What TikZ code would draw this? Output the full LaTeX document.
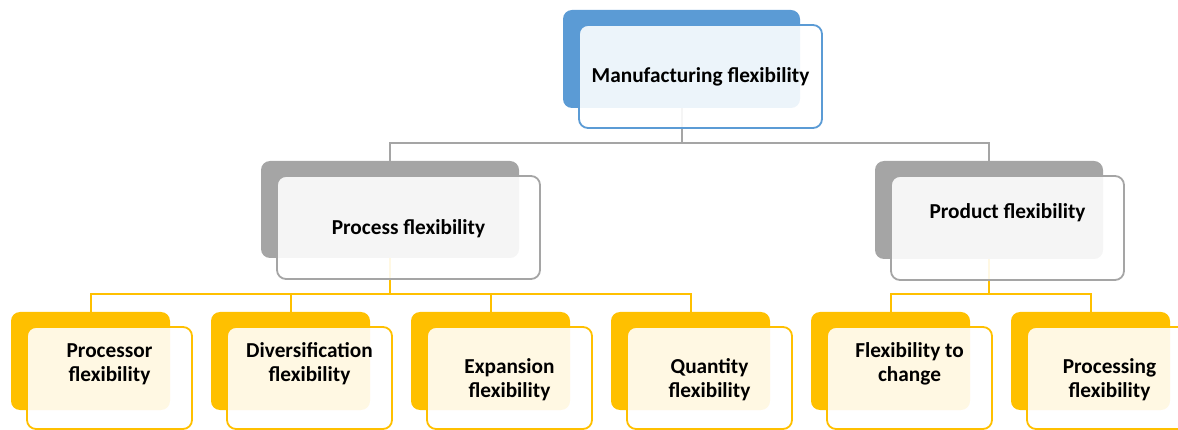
\documentclass[tikz,border=0pt]{standalone}
\usepackage{fontspec}
\setmainfont{Carlito}
\usepackage{xcolor}
\usepackage{tikz}
\usetikzlibrary{positioning}
\definecolor{azulforte}{RGB}{91,155,213}
\definecolor{cinzaforte}{RGB}{165,165,165}
\definecolor{ouroforte}{RGB}{255,192,0}
\tikzset{
  fundo/.style={rectangle,rounded corners=9pt,fill=#1,draw=none,inner sep=0pt},
  frente/.style={rectangle,rounded corners=9pt,draw=#1,line width=1.8pt,fill=white,
    fill opacity=0.89,inner sep=0pt},
  texto/.style={align=center,font=\bfseries\fontsize{21.3}{24}\selectfont},
  ligacao/.style={draw=#1,line width=2pt}
}

\begin{document}
\begin{tikzpicture}[x=1pt,y=-1pt]
\useasboundingbox (0,0) rectangle (1178,430);
\clip (0,0) rectangle (1178,430);
% caixas de fundo
\node[fundo=azulforte,minimum width=237pt,minimum height=98pt] (mfFundo) at (681.5,59) {};
\node[fundo=cinzaforte,minimum width=258pt,minimum height=97pt] (pcFundo) at (390,209.5) {};
\node[fundo=cinzaforte,minimum width=228pt,minimum height=98pt] (pdFundo) at (989,210) {};
\node[fundo=ouroforte,minimum width=159pt,minimum height=98pt] (p1Fundo) at (90.5,361) {};
\node[fundo=ouroforte,minimum width=159pt,minimum height=98pt] (p2Fundo) at (290.5,361) {};
\node[fundo=ouroforte,minimum width=159pt,minimum height=98pt] (p3Fundo) at (490.5,361) {};
\node[fundo=ouroforte,minimum width=159pt,minimum height=98pt] (p4Fundo) at (690.5,361) {};
\node[fundo=ouroforte,minimum width=159pt,minimum height=98pt] (p5Fundo) at (890.5,361) {};
\node[fundo=ouroforte,minimum width=159pt,minimum height=98pt] (p6Fundo) at (1090.5,361) {};
% ligacoes
\draw[ligacao=cinzaforte] (mfFundo.south) -- ++(0,35) -| (pcFundo.north);
\draw[ligacao=cinzaforte] (mfFundo.south) -- ++(0,35) -| (pdFundo.north);
\draw[ligacao=ouroforte] (pcFundo.south) -- ++(0,36) -| (p1Fundo.north);
\draw[ligacao=ouroforte] (pcFundo.south) -- ++(0,36) -| (p2Fundo.north);
\draw[ligacao=ouroforte] (pcFundo.south) -- ++(0,36) -| (p3Fundo.north);
\draw[ligacao=ouroforte] (pcFundo.south) -- ++(0,36) -| (p4Fundo.north);
\draw[ligacao=ouroforte] (pdFundo.south) -- ++(0,35) -| (p5Fundo.north);
\draw[ligacao=ouroforte] (pdFundo.south) -- ++(0,35) -| (p6Fundo.north);
% caixas da frente
\node[frente=azulforte,minimum width=243pt,minimum height=103pt] (mfFrente) at ([shift={(19,17.5)}]mfFundo.center) {};
\node[frente=cinzaforte,minimum width=263pt,minimum height=103pt] (pcFrente) at ([shift={(18.5,18)}]pcFundo.center) {};
\node[frente=cinzaforte,minimum width=233pt,minimum height=104pt] (pdFrente) at ([shift={(18.5,18)}]pdFundo.center) {};
\node[frente=ouroforte,minimum width=165pt,minimum height=102pt] (p1Frente) at ([shift={(19,17)}]p1Fundo.center) {};
\node[frente=ouroforte,minimum width=165pt,minimum height=102pt] (p2Frente) at ([shift={(19,17)}]p2Fundo.center) {};
\node[frente=ouroforte,minimum width=165pt,minimum height=102pt] (p3Frente) at ([shift={(19,17)}]p3Fundo.center) {};
\node[frente=ouroforte,minimum width=165pt,minimum height=102pt] (p4Frente) at ([shift={(19,17)}]p4Fundo.center) {};
\node[frente=ouroforte,minimum width=165pt,minimum height=102pt] (p5Frente) at ([shift={(19,17)}]p5Fundo.center) {};
\node[frente=ouroforte,minimum width=165pt,minimum height=102pt] (p6Frente) at ([shift={(19,17)}]p6Fundo.center) {};
% textos
\node[texto] (mfTexto) at ([yshift=-0.5pt]mfFrente.center) {Manufacturing flexibility};
\node[texto] (pcTexto) at ([yshift=-1.5pt]pcFrente.center) {Process flexibility};
\node[texto] (pdTexto) at ([yshift=15pt]pdFrente.center) {Product flexibility};
\node[texto] (p1Texto) at ([yshift=14pt]p1Frente.center) {Processor\\flexibility};
\node[texto] (p2Texto) at ([yshift=14pt]p2Frente.center) {Diversification\\flexibility};
\node[texto] (p3Texto) at ([yshift=-2pt]p3Frente.center) {Expansion\\flexibility};
\node[texto] (p4Texto) at ([yshift=-2pt]p4Frente.center) {Quantity\\flexibility};
\node[texto] (p5Texto) at ([yshift=14pt]p5Frente.center) {Flexibility to\\change};
\node[texto] (p6Texto) at ([yshift=-2pt]p6Frente.center) {Processing\\flexibility};
\end{tikzpicture}
\end{document}
